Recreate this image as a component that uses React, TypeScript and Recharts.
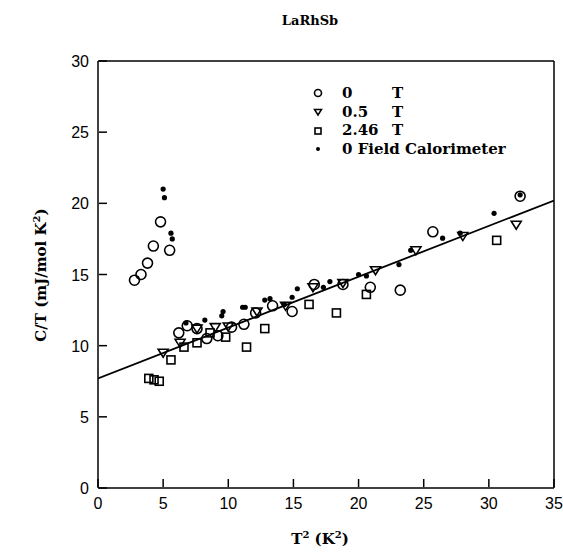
import { ScatterChart, Scatter, XAxis, YAxis } from 'recharts';

// C/T vs T^2 for LaRhSb
const zeroTesla = [
  [2.8, 14.6], [3.3, 15.0], [3.8, 15.8], [4.25, 17.0], [4.8, 18.7], [5.5, 16.7],
  [6.2, 10.9], [6.85, 11.4], [7.6, 11.2], [8.35, 10.5], [9.2, 10.7], [10.25, 11.3],
  [11.2, 11.5], [12.1, 12.3], [13.4, 12.8], [14.9, 12.4], [16.6, 14.3], [18.8, 14.3],
  [20.9, 14.1], [23.2, 13.9], [25.7, 18.0], [32.4, 20.5],
];
const halfTesla = [
  [5.0, 9.5], [6.3, 10.2], [7.6, 11.2], [9.0, 11.3], [10.0, 11.35], [12.2, 12.4],
  [14.4, 12.8], [16.5, 14.1], [18.8, 14.4], [21.3, 15.3], [24.4, 16.7], [28.0, 17.7],
  [32.1, 18.5],
];
const highField = [
  [3.9, 7.7], [4.3, 7.6], [4.7, 7.5], [5.6, 9.0], [6.6, 9.9], [7.6, 10.2], [8.6, 10.9],
  [9.8, 10.6], [11.4, 9.9], [12.8, 11.2], [16.2, 12.9], [18.3, 12.3], [20.6, 13.6],
  [30.6, 17.4],
];
const calorimeter = [
  [5.0, 21.0], [5.1, 20.4], [5.6, 17.9], [5.7, 17.5], [6.75, 11.6], [8.2, 11.8],
  [9.5, 12.1], [9.6, 12.4], [11.1, 12.7], [11.3, 12.7], [12.8, 13.2], [13.2, 13.3],
  [14.3, 12.9], [14.9, 13.4], [15.3, 14.0], [17.3, 14.1], [17.8, 14.5], [20.0, 15.0],
  [20.6, 14.9], [23.1, 15.7], [24.0, 16.7], [26.45, 17.55], [27.8, 17.9], [30.4, 19.3],
  [32.4, 20.6],
];
const fitLine = [[0, 7.7], [35, 20.2]];

const xTicks = [0, 5, 10, 15, 20, 25, 30, 35];
const yTicks = [0, 5, 10, 15, 20, 25, 30];

const toPts = (arr: number[][]) => arr.map(([x, y]) => ({ x, y }));

const serif = '"DejaVu Serif", "Liberation Serif", serif';
const sans = '"Liberation Sans", Arial, sans-serif';

const OpenCircle = (p: any) => (
  <circle cx={p.cx} cy={p.cy} r={5} fill="none" stroke="#000" strokeWidth={1.6} />
);
const DownTriangle = (p: any) => (
  <path
    d={`M${p.cx - 5},${p.cy - 3.5} L${p.cx + 5},${p.cy - 3.5} L${p.cx},${p.cy + 4.5} Z`}
    fill="none"
    stroke="#000"
    strokeWidth={1.6}
  />
);
const OpenSquare = (p: any) => (
  <rect x={p.cx - 4} y={p.cy - 4} width={8} height={8} fill="none" stroke="#000" strokeWidth={1.6} />
);
const Dot = (p: any) => <circle cx={p.cx} cy={p.cy} r={2.6} fill="#000" />;
const NoShape = () => <g />;

const BottomTick = (p: any) => (
  <g>
    <line x1={p.x} y1={p.y - 1} x2={p.x} y2={p.y - 9} stroke="#000" strokeWidth={1.5} />
    <text x={p.x} y={p.y + 21} textAnchor="middle" fontSize={16} fontFamily={sans} fill="#000">
      {p.payload.value}
    </text>
  </g>
);
const TopTick = (p: any) => (
  <line x1={p.x} y1={p.y + 1} x2={p.x} y2={p.y + 9} stroke="#000" strokeWidth={1.5} />
);
const LeftTick = (p: any) => (
  <g>
    <line x1={p.x + 1} y1={p.y} x2={p.x + 9} y2={p.y} stroke="#000" strokeWidth={1.5} />
    <text x={p.x - 9} y={p.y + 6} textAnchor="end" fontSize={16} fontFamily={sans} fill="#000">
      {p.payload.value}
    </text>
  </g>
);

const legendRows = [
  { shape: 'circle', label: '0', unit: 'T' },
  { shape: 'tri', label: '0.5', unit: 'T' },
  { shape: 'square', label: '2.46', unit: 'T' },
  { shape: 'dot', label: '0 Field Calorimeter', unit: '' },
];

function LegendMark({ shape }: { shape: string }) {
  return (
    <svg width={12} height={12} style={{ marginRight: 18 }}>
      {shape === 'circle' && <circle cx={6} cy={6} r={3.5} fill="none" stroke="#000" strokeWidth={1.6} />}
      {shape === 'tri' && <path d="M2.5,3.5 L9.5,3.5 L6,9 Z" fill="none" stroke="#000" strokeWidth={1.5} />}
      {shape === 'square' && <rect x={3} y={3} width={6} height={6} fill="none" stroke="#000" strokeWidth={1.6} />}
      {shape === 'dot' && <circle cx={6} cy={6} r={2} fill="#000" />}
    </svg>
  );
}

export default function App() {
  return (
    <div style={{ position: 'absolute', left: 0, top: 0, width: 563, height: 552, background: '#fff' }}>
      <ScatterChart width={563} height={552} margin={{ top: 60, right: 8, bottom: 63, left: 97 }}>
        <XAxis
          xAxisId="b"
          type="number"
          dataKey="x"
          domain={[0, 35]}
          ticks={xTicks}
          height={1}
          tickSize={0}
          tickMargin={0}
          tickLine={false}
          tick={<BottomTick />}
          axisLine={{ stroke: '#000', strokeWidth: 1.5 }}
          allowDataOverflow
        />
        <XAxis
          xAxisId="t"
          orientation="top"
          type="number"
          dataKey="x"
          domain={[0, 35]}
          ticks={xTicks.slice(1, -1)}
          height={1}
          tickSize={0}
          tickMargin={0}
          tickLine={false}
          tick={<TopTick />}
          axisLine={{ stroke: '#000', strokeWidth: 1.5 }}
        />
        <YAxis
          yAxisId="l"
          type="number"
          dataKey="y"
          domain={[0, 30]}
          ticks={yTicks}
          width={1}
          tickSize={0}
          tickMargin={0}
          tickLine={false}
          tick={<LeftTick />}
          axisLine={{ stroke: '#000', strokeWidth: 1.5 }}
          allowDataOverflow
        />
        <YAxis
          yAxisId="r"
          orientation="right"
          type="number"
          dataKey="y"
          domain={[0, 30]}
          width={1}
          tick={false}
          tickLine={false}
          axisLine={{ stroke: '#000', strokeWidth: 1.5 }}
        />
        <Scatter xAxisId="b" yAxisId="l" data={toPts(fitLine)} line={{ stroke: '#000', strokeWidth: 1.8 }} shape={<NoShape />} isAnimationActive={false} />
        <Scatter xAxisId="b" yAxisId="l" data={toPts(zeroTesla)} shape={<OpenCircle />} isAnimationActive={false} />
        <Scatter xAxisId="b" yAxisId="l" data={toPts(halfTesla)} shape={<DownTriangle />} isAnimationActive={false} />
        <Scatter xAxisId="b" yAxisId="l" data={toPts(highField)} shape={<OpenSquare />} isAnimationActive={false} />
        <Scatter xAxisId="b" yAxisId="l" data={toPts(calorimeter)} shape={<Dot />} isAnimationActive={false} />
      </ScatterChart>

      <div style={{ position: 'absolute', left: 0, width: 620, top: 13, textAlign: 'center', fontFamily: serif, fontWeight: 'bold', fontSize: 13 }}>
        LaRhSb
      </div>

      <div style={{ position: 'absolute', left: 312, top: 84, fontFamily: serif, fontWeight: 'bold', fontSize: 15, lineHeight: '18.7px' }}>
        {legendRows.map((r) => (
          <div key={r.label} style={{ display: 'flex', alignItems: 'center', whiteSpace: 'pre' }}>
            <LegendMark shape={r.shape} />
            <span style={{ display: 'inline-block', width: r.unit ? 50 : undefined }}>{r.label}</span>
            {r.unit && <span>{r.unit}</span>}
          </div>
        ))}
      </div>

      <div
        style={{
          position: 'absolute',
          left: 40,
          top: 275,
          transform: 'translate(-50%, -50%) rotate(-90deg)',
          whiteSpace: 'nowrap',
          fontFamily: serif,
          fontWeight: 'bold',
          fontSize: 15,
        }}
      >
        C/T (mJ/mol K<sup style={{ fontSize: 10 }}>2</sup>)
      </div>

      <div
        style={{
          position: 'absolute',
          left: 320,
          top: 538,
          transform: 'translate(-50%, -50%)',
          whiteSpace: 'nowrap',
          fontFamily: serif,
          fontWeight: 'bold',
          fontSize: 15,
        }}
      >
        T<sup style={{ fontSize: 10 }}>2</sup> (K<sup style={{ fontSize: 10 }}>2</sup>)
      </div>
    </div>
  );
}
